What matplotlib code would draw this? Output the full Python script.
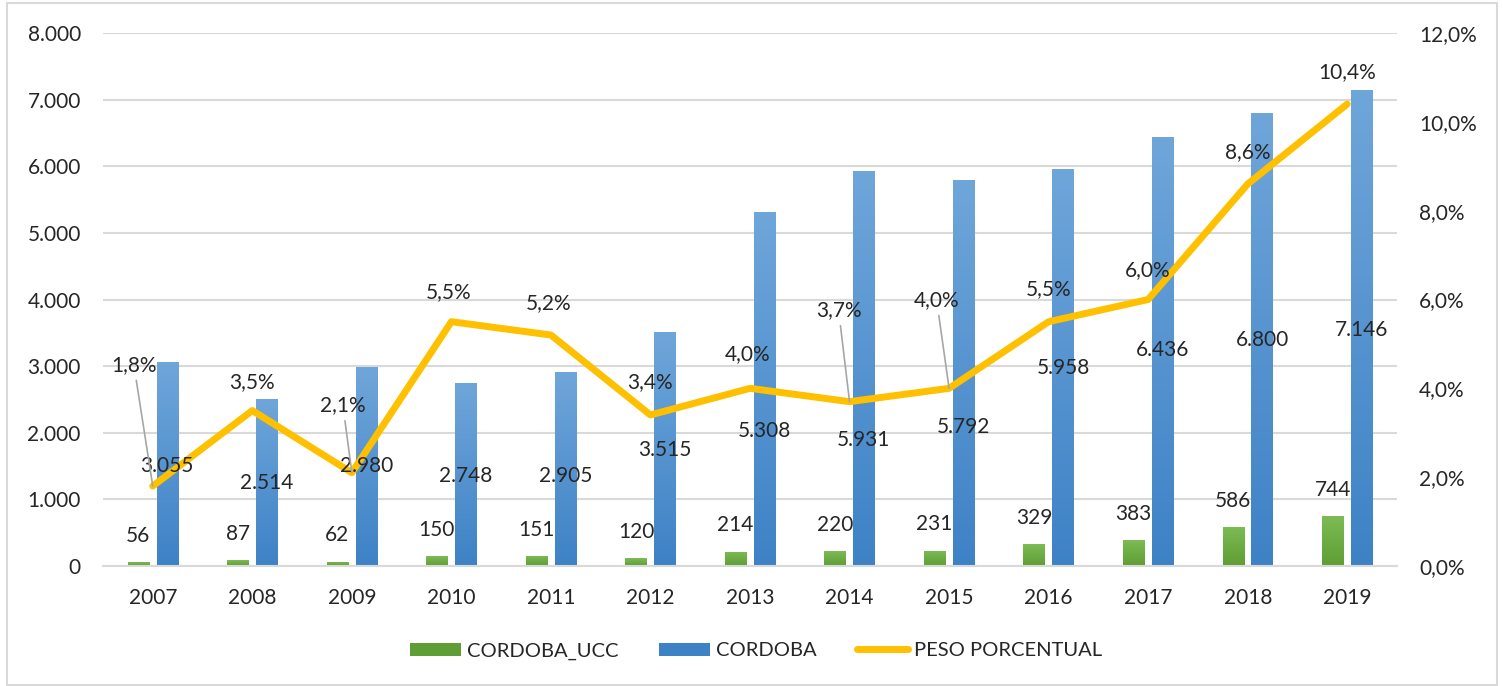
import numpy as np
import matplotlib
matplotlib.use("Agg")
import matplotlib.pyplot as plt
from matplotlib.patches import Rectangle
from matplotlib.ticker import FuncFormatter

plt.rcParams['font.family'] = ['Lato', 'DejaVu Sans']

# data
years = ['2007', '2008', '2009', '2010', '2011', '2012', '2013',
         '2014', '2015', '2016', '2017', '2018', '2019']
cordoba_ucc = [56, 87, 62, 150, 151, 120, 214, 220, 231, 329, 383, 586, 744]
cordoba = [3055, 2514, 2980, 2748, 2905, 3515, 5308, 5931, 5792, 5958, 6436, 6800, 7146]
peso_pct = [1.8, 3.5, 2.1, 5.5, 5.2, 3.4, 4.0, 3.7, 4.0, 5.5, 6.0, 8.6, 10.4]

# label placement (manually moved labels in the original)
blue_lab_y = [1500, 1246, 1500, 1351, 1351, 1742, 2027, 1892, 2087, 2973, 3243, 3393, 3543]
pct_lab_dx = [-0.19, 0.0, -0.09, -0.03, -0.02, 0.0, -0.02, -0.11, -0.125, 0.0, 0.0, 0.0, 0.0]
pct_lab_y = [4.53, 4.14, 3.62, 6.17, 5.92, 4.14, 4.77, 5.76, 5.99, 6.24, 6.66, 9.32, 11.12]
leader = [True, False, True, False, False, False, False, True, True, False, False, False, False]

GREEN_TOP, GREEN_BOT = '#7DBB55', '#5E9E34'
BLUE_TOP, BLUE_BOT = '#6FA6DA', '#3E82C6'
YELLOW = '#FFC000'
GRID = '#D9D9D9'
TXT = '#262626'
LAB_FS = 15
TICK_FS = 15


def gradient_bars(ax, bars, top, bottom):
    c1 = np.array(matplotlib.colors.to_rgb(top))
    c2 = np.array(matplotlib.colors.to_rgb(bottom))
    grad = np.linspace(0, 1, 64)[:, None, None]
    img = c1 * (1 - grad) + c2 * grad
    for b in bars:
        x0, y0 = b.get_x(), b.get_y()
        w, h = b.get_width(), b.get_height()
        b.set_facecolor('none')
        im = ax.imshow(img, extent=[x0, x0 + w, y0, y0 + h], aspect='auto',
                       origin='upper', zorder=2, interpolation='bilinear')
        im.set_clip_path(b)


fig = plt.figure(figsize=(15.03, 6.86), dpi=100)
fig.patches.append(Rectangle((7 / 1503, 0.002), 1490 / 1503, 1 - 3 / 686 - 0.002,
                             transform=fig.transFigure, fill=False,
                             edgecolor=GRID, linewidth=1.5))
ax = fig.add_axes([103 / 1503, 1 - 566 / 686, 1294 / 1503, 533 / 686])
ax2 = ax.twinx()

x = np.arange(len(years))
w = 0.215
off = 0.145
gb = ax.bar(x - off, cordoba_ucc, w, label='CORDOBA_UCC', color=GREEN_BOT, zorder=2)
bb = ax.bar(x + off, cordoba, w, label='CORDOBA', color=BLUE_BOT, zorder=2)

gradient_bars(ax, gb, GREEN_TOP, GREEN_BOT)
gradient_bars(ax, bb, BLUE_TOP, BLUE_BOT)
ax.set_xlim(-0.5, len(years) - 0.5)
ax.set_ylim(0, 8000)
ax.set_yticks(np.arange(0, 8001, 1000))

ax.yaxis.set_major_formatter(FuncFormatter(lambda v, p: f'{v:,.0f}'.replace(',', '.')))
ax.grid(axis='y', color=GRID, linewidth=1.5, zorder=0)
ax.set_axisbelow(True)
ax.set_xticks(x)
ax.set_xticklabels(years)
for s in ['top', 'right', 'left']:
    ax.spines[s].set_visible(False)
ax.spines['bottom'].set_color(GRID)
ax.spines['bottom'].set_linewidth(1.5)
ax.tick_params(axis='both', length=0, labelsize=TICK_FS, colors=TXT)
ax.tick_params(axis='x', pad=16)
ax.tick_params(axis='y', pad=16)

line, = ax2.plot(x, peso_pct, color=YELLOW, linewidth=5, label='PESO PORCENTUAL',
                 solid_joinstyle='round', solid_capstyle='round', zorder=3)
ax2.set_ylim(0, 12)
ax2.set_yticks(np.arange(0, 12.1, 2))
ax2.yaxis.set_major_formatter(FuncFormatter(lambda v, p: f'{v:.1f}%'.replace('.', ',')))
for s in ax2.spines.values():
    s.set_visible(False)
ax2.tick_params(axis='y', length=0, labelsize=TICK_FS, colors=TXT, pad=16)

ax.set_zorder(1)
ax2.set_zorder(2)
ax2.patch.set_visible(False)

# labels
for i in range(len(years)):
    ax.annotate(f'{cordoba_ucc[i]}', (x[i] - off, cordoba_ucc[i]), xytext=(0, 19),
                textcoords='offset points', ha='center', va='center',
                fontsize=LAB_FS, color=TXT, zorder=5)
    ax2.text(x[i] + off, blue_lab_y[i] / 8000 * 12,
             f'{cordoba[i]:,}'.replace(',', '.'), ha='center', va='center',
             fontsize=LAB_FS, color=TXT, zorder=5)
    lab = f'{peso_pct[i]:.1f}%'.replace('.', ',')
    if leader[i]:
        ax2.annotate(lab, (x[i], peso_pct[i]), xytext=(x[i] + pct_lab_dx[i], pct_lab_y[i]),
                     ha='center', va='center', fontsize=LAB_FS, color=TXT, zorder=5,
                     arrowprops=dict(arrowstyle='-', color='#A6A6A6', lw=1.2,
                                     shrinkA=2, shrinkB=0))
    else:
        ax2.text(x[i] + pct_lab_dx[i], pct_lab_y[i], lab, ha='center', va='center',
                 fontsize=LAB_FS, color=TXT, zorder=5)

handles = [Rectangle((0, 0), 1, 1, facecolor=GREEN_BOT),
           Rectangle((0, 0), 1, 1, facecolor=BLUE_BOT), line]
fig.legend(handles, ['CORDOBA_UCC', 'CORDOBA', 'PESO PORCENTUAL'], loc='center',
           bbox_to_anchor=(756 / 1503, 1 - 651 / 686), ncol=3, frameon=False,
           fontsize=14.5, handlelength=2.54, handleheight=0.65, columnspacing=2.0,
           handletextpad=0.3, labelcolor=TXT)

fig.savefig('out.png', dpi=100)
